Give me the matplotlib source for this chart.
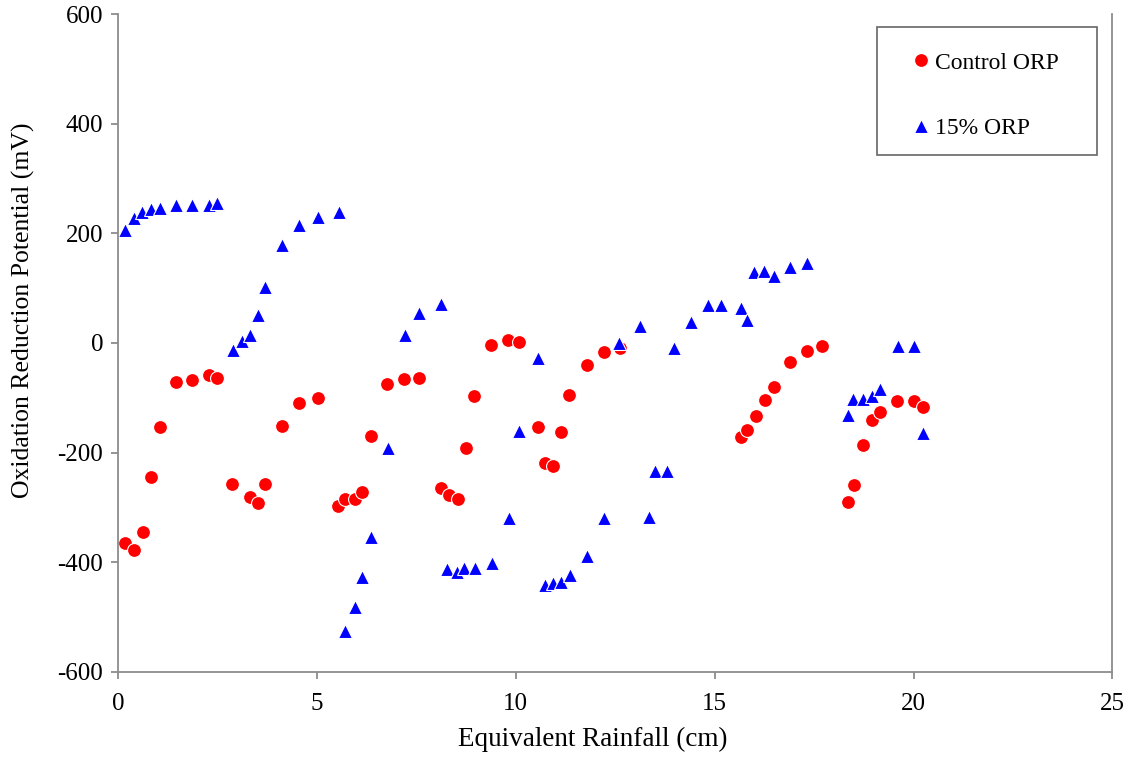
import matplotlib
matplotlib.use("Agg")
import matplotlib.pyplot as plt
from matplotlib.patches import Rectangle

# Control cell ORP readings
control_rain = [0.18, 0.40, 0.62, 0.83, 1.05, 1.47, 1.85, 2.28, 2.50, 2.87,
                3.33, 3.53, 3.70, 4.12, 4.54, 5.02, 5.54, 5.71, 5.96, 6.13,
                6.36, 6.77, 7.19, 7.57, 8.11, 8.32, 8.55, 8.75, 8.96, 9.39,
                9.81, 10.09, 10.56, 10.73, 10.94, 11.14, 11.35, 11.79, 12.21, 12.61,
                15.65, 15.82, 16.03, 16.26, 16.48, 16.90, 17.32, 17.71, 18.35, 18.51,
                18.73, 18.95, 19.16, 19.58, 20.02, 20.23]
control_orp = [-365, -378, -344, -244, -154, -72, -67, -58, -63, -257,
               -280, -291, -257, -151, -110, -101, -297, -284, -285, -272,
               -169, -75, -66, -63, -265, -277, -284, -191, -97, -4,
               5, 2, -154, -218, -225, -163, -94, -41, -16, -9,
               -172, -159, -134, -104, -81, -35, -15, -6, -290, -259,
               -186, -141, -125, -106, -106, -116]

# 15% amended cell ORP readings
amended_rain = [0.19, 0.41, 0.61, 0.83, 1.05, 1.47, 1.86, 2.28, 2.50, 2.89,
                3.11, 3.33, 3.53, 3.70, 4.12, 4.54, 5.03, 5.55, 5.71, 5.96,
                6.13, 6.36, 6.78, 7.21, 7.57, 8.11, 8.28, 8.52, 8.71, 8.97,
                9.40, 9.82, 10.09, 10.56, 10.73, 10.93, 11.14, 11.37, 11.79, 12.22,
                12.60, 13.12, 13.36, 13.50, 13.79, 13.98, 14.40, 14.84, 15.15, 15.65,
                15.82, 16.00, 16.24, 16.48, 16.90, 17.33, 18.35, 18.47, 18.74, 18.96,
                19.16, 19.60, 20.02, 20.24]
amended_orp = [206, 228, 238, 244, 247, 252, 252, 252, 255, -13,
               4, 15, 51, 103, 179, 216, 229, 238, -525, -482,
               -426, -353, -192, 15, 54, 72, -413, -417, -411, -411,
               -401, -319, -161, -28, -441, -437, -435, -423, -388, -320,
               0, 31, -317, -233, -233, -10, 38, 70, 69, 63,
               42, 129, 132, 123, 139, 145, -131, -102, -102, -96,
               -83, -5, -5, -165]

x_ticks = [0, 5, 10, 15, 20, 25]
y_ticks = [-600, -400, -200, 0, 200, 400, 600]

plt.rcParams["font.family"] = ["Liberation Serif", "DejaVu Serif"]
plt.rcParams["axes.unicode_minus"] = False

fig = plt.figure(figsize=(11.34, 7.57), dpi=100)
ax = fig.add_axes([0.104, 0.1123, 0.877, 0.8692])

ax.plot(control_rain, control_orp, linestyle="none", marker="o", markersize=10,
        markerfacecolor="#ff0000", markeredgecolor="white", markeredgewidth=0.8,
        label="Control ORP")
ax.plot(amended_rain, amended_orp, linestyle="none", marker="^", markersize=10,
        markerfacecolor="#0000ff", markeredgecolor="white", markeredgewidth=0.8,
        label="15% ORP")

ax.set_xlim(0, 25)
ax.set_ylim(-600, 600)
ax.set_xticks(x_ticks)
ax.set_yticks(y_ticks)

axis_grey = "#8c8c8c"
for side in ("left", "bottom", "right"):
    ax.spines[side].set_color(axis_grey)
    ax.spines[side].set_linewidth(1.3)
ax.spines["top"].set_visible(False)
ax.tick_params(axis="both", direction="out", length=5, width=1.3,
               color=axis_grey, labelsize=18, labelcolor="black")
ax.tick_params(axis="y", pad=5.5)
ax.tick_params(axis="x", pad=10)

ax.set_xlabel("Equivalent Rainfall (cm)", fontsize=19.5)
ax.xaxis.set_label_coords(0.4777, -0.084)
ax.set_ylabel("Oxidation Reduction Potential (mV)", fontsize=18.5)
ax.yaxis.set_label_coords(-0.083, 0.55)

# legend box drawn separately so its padding can differ per side
ax.add_patch(Rectangle((0.7633, 0.7857), 0.2212, 0.1945, transform=ax.transAxes,
                       facecolor="white", edgecolor="#666666", linewidth=1.2,
                       zorder=4, clip_on=False))
leg = ax.legend(loc="upper left", bbox_to_anchor=(0.7955, 0.942), fontsize=17,
                frameon=False, borderpad=0, labelspacing=1.85,
                handletextpad=0.1, handlelength=1.0, borderaxespad=0,
                markerscale=1.0)
leg.set_zorder(5)

fig.savefig("out.png", dpi=100)
